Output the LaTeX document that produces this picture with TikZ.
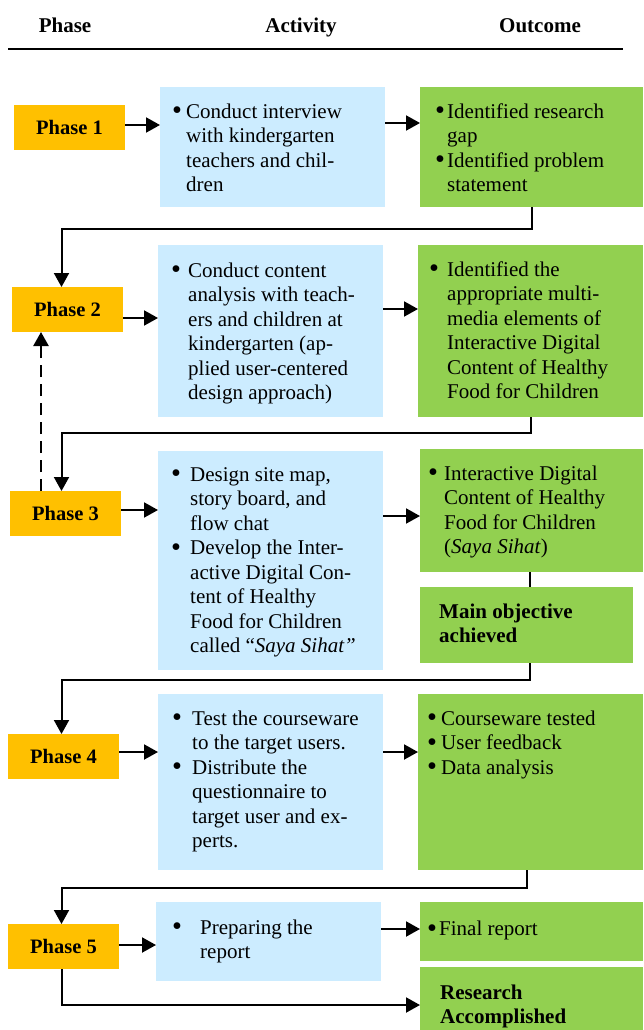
\documentclass[tikz,border=0pt]{standalone}
\usepackage{fontspec}
\usepackage{graphicx}
\setmainfont{Liberation Serif}
\usetikzlibrary{arrows.meta,calc}

\definecolor{phaseorange}{HTML}{FFC000}
\definecolor{actblue}{HTML}{CCECFF}
\definecolor{outgreen}{HTML}{92D050}

% enlarged bullet set in a fixed-width slot
\newcommand\bl[1]{\makebox[#1][l]{\raisebox{-0.08em}{\scalebox{1.35}{\textbullet}}}}

\tikzset{
  box/.style={inner sep=0pt, outer sep=0pt, anchor=north west, draw=none},
  phasebox/.style={box, fill=phaseorange, minimum width=111pt, minimum height=45pt,
    font=\fontsize{20.5}{24}\selectfont\bfseries},
  actbox/.style={box, fill=actblue},
  outbox/.style={box, fill=outgreen},
  body/.style={inner sep=0pt, anchor=base west, font=\fontsize{21}{24.5}\selectfont},
  bodybold/.style={body, font=\fontsize{21}{24.5}\selectfont\bfseries},
  head/.style={inner sep=0pt, anchor=base, font=\fontsize{21}{24}\selectfont\bfseries},
  link/.style={line width=2pt},
  arr/.style={link, -{Triangle[length=14pt,width=15pt]}},
  dasharr/.style={arr, line width=2.4pt, dash pattern=on 12pt off 7pt},
}

\begin{document}
\begin{tikzpicture}[x=1pt, y=-1pt]
\useasboundingbox (0,0) rectangle (643,1030);

% column headings
\node[head] (hphase) at (65,32.7) {Phase};
\node[head] (hact) at (301,32.7) {Activity};
\node[head] (hout) at (540,32.7) {Outcome};
\coordinate (ruleL) at (8,49);
\coordinate (ruleR) at (623,49);
\draw[line width=2pt] (ruleL) -- (ruleR);

% lanes for the return connectors
\coordinate (lane) at (61.5,0);
\coordinate (dlane) at (41,0);
\coordinate (rlane) at (530,0);

% ---------- Phase 1 ----------
\node[phasebox] (p1) at (14,105) {Phase 1};
\node[actbox, minimum width=225pt, minimum height=120pt] (a1) at (160,87) {};
\node[outbox, minimum width=223pt, minimum height=120pt] (o1) at (420,87) {};
\node[body] (ta1) at (172,118) {\begin{tabular}[t]{@{}l@{}l@{}}
  \bl{14pt} & Conduct interview\\
  & with kindergarten\\
  & teachers and chil-\\
  & dren\end{tabular}};
\node[body] (to1) at (435,118) {\begin{tabular}[t]{@{}l@{}l@{}}
  \bl{12pt} & Identified research\\
  & gap\\
  \bl{12pt} & Identified problem\\
  & statement\end{tabular}};

% ---------- Phase 2 ----------
\node[phasebox] (p2) at (12,287) {Phase 2};
\node[actbox, minimum width=225pt, minimum height=172pt] (a2) at (158,245) {};
\node[outbox, minimum width=225pt, minimum height=172pt] (o2) at (418,245) {};
\node[body] (ta2) at (171,277) {\begin{tabular}[t]{@{}l@{}l@{}}
  \bl{17pt} & Conduct content\\
  & analysis with teach-\\
  & ers and children at\\
  & kindergarten (ap-\\
  & plied user-centered\\
  & design approach)\end{tabular}};
\node[body] (to2) at (429,276) {\begin{tabular}[t]{@{}l@{}l@{}}
  \bl{18pt} & Identified the\\
  & appropriate multi-\\
  & media elements of\\
  & Interactive Digital\\
  & Content of Healthy\\
  & Food for Children\end{tabular}};

% ---------- Phase 3 ----------
\node[phasebox] (p3) at (10,491) {Phase 3};
\node[actbox, minimum width=225pt, minimum height=219pt] (a3) at (158,451) {};
\node[outbox, minimum width=223pt, minimum height=123pt] (o3) at (420,449) {};
\node[outbox, minimum width=213pt, minimum height=76pt] (mo) at (420,587) {};
\node[body] (ta3) at (171,481) {\begin{tabular}[t]{@{}l@{}l@{}}
  \bl{19pt} & Design site map,\\
  & story board, and\\
  & flow chat\\
  \bl{19pt} & Develop the Inter-\\
  & active Digital Con-\\
  & tent of Healthy\\
  & Food for Children\\
  & called ``\textit{Saya Sihat''}\end{tabular}};
\node[body] (to3) at (428,480) {\begin{tabular}[t]{@{}l@{}l@{}}
  \bl{16pt} & Interactive Digital\\
  & Content of Healthy\\
  & Food for Children\\
  & (\textit{Saya Sihat})\end{tabular}};
\node[bodybold] (tmo) at (439,618) {\begin{tabular}[t]{@{}l@{}}
  Main objective\\ achieved\end{tabular}};

% ---------- Phase 4 ----------
\node[phasebox] (p4) at (8,734) {Phase 4};
\node[actbox, minimum width=225pt, minimum height=176pt] (a4) at (158,694) {};
\node[outbox, minimum width=225pt, minimum height=176pt] (o4) at (418,694) {};
\node[body] (ta4) at (172,725) {\begin{tabular}[t]{@{}l@{}l@{}}
  \bl{20pt} & Test the courseware\\
  & to the target users.\\
  \bl{20pt} & Distribute the\\
  & questionnaire to\\
  & target user and ex-\\
  & perts.\end{tabular}};
\node[body] (to4) at (427,725) {\begin{tabular}[t]{@{}l@{}l@{}}
  \bl{14pt} & Courseware tested\\
  \bl{14pt} & User feedback\\
  \bl{14pt} & Data analysis\end{tabular}};

% ---------- Phase 5 ----------
\node[phasebox] (p5) at (8,924) {Phase 5};
\node[actbox, minimum width=225pt, minimum height=79pt] (a5) at (156,902) {};
\node[outbox, minimum width=223pt, minimum height=59pt] (o5) at (420,902) {};
\node[outbox, minimum width=223pt, minimum height=63pt] (ra) at (420,967) {};
\node[body] (ta5) at (172,934) {\begin{tabular}[t]{@{}l@{}l@{}}
  \bl{28pt} & Preparing the\\
  & report\end{tabular}};
\node[body] (to5) at (427,935.5) {\begin{tabular}[t]{@{}l@{}l@{}}
  \bl{12pt} & Final report\end{tabular}};
\node[bodybold] (tra) at (440,999) {\begin{tabular}[t]{@{}l@{}}
  Research\\ Accomplished\end{tabular}};

% ---------- phase -> activity -> outcome ----------
\draw[arr] ([yshift=2.5pt]p1.east) -- ([yshift=2.5pt]p1.east -| a1.west);
\draw[arr] ([yshift=24pt]a1.east) -- ([yshift=24pt]a1.east -| o1.west);
\draw[arr] ([yshift=-8.5pt]p2.east) -- ([yshift=-8.5pt]p2.east -| a2.west);
\draw[arr] ([yshift=22pt]a2.east) -- ([yshift=22pt]a2.east -| o2.west);
\draw[arr] ([yshift=3.5pt]p3.east) -- ([yshift=3.5pt]p3.east -| a3.west);
\draw[arr] ([yshift=44.5pt]a3.east) -- ([yshift=44.5pt]a3.east -| o3.west);
\draw[arr] ([yshift=4.5pt]p4.east) -- ([yshift=4.5pt]p4.east -| a4.west);
\draw[arr] ([yshift=30pt]a4.east) -- ([yshift=30pt]a4.east -| o4.west);
\draw[arr] ([yshift=1.5pt]p5.east) -- ([yshift=1.5pt]p5.east -| a5.west);
\draw[arr] ([yshift=12.5pt]a5.east) -- ([yshift=12.5pt]a5.east -| o5.west);

% ---------- return connectors to the next phase ----------
\draw[arr] (o1.south) -- ++(0,22) -| (lane |- p2.north);
\draw[arr] (o2.south) -- ++(0,16) -| (lane |- p3.north);
\draw[link] (rlane |- o3.south) -- (rlane |- mo.north);
\draw[arr] (rlane |- mo.south) -- ++(0,17) -| (lane |- p4.north);
\draw[arr] ([xshift=-3.5pt]o4.south) -- ++(0,18) -| (lane |- p5.north);
\draw[arr] (lane |- p5.south) |- ([yshift=-6.5pt]ra.west);

% feedback from phase 3 to phase 2
\draw[dasharr] (dlane |- p3.north) -- (dlane |- p2.south);
\end{tikzpicture}
\end{document}
